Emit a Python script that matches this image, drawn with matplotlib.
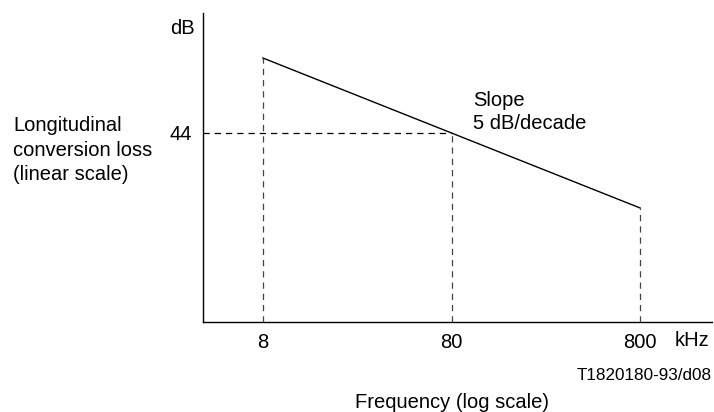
import numpy as np
import matplotlib
matplotlib.use('Agg')
import matplotlib.pyplot as plt

plt.rcParams['font.family'] = ['Liberation Sans', 'DejaVu Sans']

freq_khz = [8, 80, 800]
loss_db = [49, 44, 39]
ref_freq = 80
ref_db = 44
tick_labels = ['8', '80', '800']

fig = plt.figure(figsize=(7.14, 4.12), dpi=100)
ax = fig.add_axes([203/714, 1-322/412, 509/714, 309/412])
ax.set_xscale('log')
ax.set_xlim(3.852, 1923)
ax.set_ylim(31.4, 52)

ax.plot(freq_khz, loss_db, color='black', lw=1)
# dashed drop lines
for f, v in zip(freq_khz, loss_db):
    ax.plot([f, f], [31.4, v], color='#444444', lw=0.9, ls=(0, (5, 4)))
ax.plot([3.852, ref_freq], [ref_db, ref_db], color='black', lw=0.9, ls=(0, (5, 4)))

for s in ['top', 'right']:
    ax.spines[s].set_visible(False)
ax.spines['left'].set_linewidth(1)
ax.spines['bottom'].set_linewidth(1)

fs = 14.5
ax.set_xticks(freq_khz)
ax.set_xticklabels(tick_labels)
ax.xaxis.set_minor_locator(matplotlib.ticker.NullLocator())
ax.set_yticks([ref_db])
ax.set_yticklabels(['44'])
ax.tick_params(length=0, labelsize=fs, pad=8)

fig.text(195/714, 1-29/412, 'dB', ha='right', va='center', fontsize=fs)
fig.text(675/714, 1-341/412, 'kHz', ha='left', va='center', fontsize=fs)
fig.text(13/714, 1-150/412, 'Longitudinal\nconversion loss\n(linear scale)',
         ha='left', va='center', fontsize=fs, linespacing=1.36)
fig.text(473/714, 1-112/412, 'Slope\n5 dB/decade', ha='left', va='center',
         fontsize=fs, linespacing=1.32)
fig.text(712/714, 1-376/412, 'T1820180-93/d08', ha='right', va='center', fontsize=12.3)
fig.text(452/714, 1-403/412, 'Frequency (log scale)', ha='center', va='center', fontsize=fs)

fig.savefig('out.png', dpi=100)
